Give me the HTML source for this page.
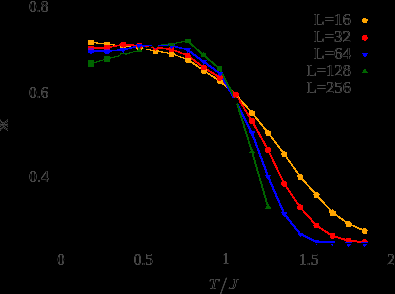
<!DOCTYPE html>
<html><head><meta charset="utf-8"><title>plot</title>
<style>
html,body{margin:0;padding:0;background:#000;}
body{width:395px;height:294px;overflow:hidden;font-family:"Liberation Serif",serif;}
svg{display:block;will-change:transform;transform:translateZ(0);font-family:"Liberation Serif",serif;}
</style></head><body>
<svg width="395" height="294" viewBox="0 0 395 294">
<defs><filter id="edge" color-interpolation-filters="sRGB" x="0" y="0" width="395" height="294" filterUnits="userSpaceOnUse"><feFlood flood-color="#000" result="bk"/><feComposite in="SourceGraphic" in2="bk" operator="over" result="o"/><feGaussianBlur in="o" stdDeviation="0.4" result="b"/><feColorMatrix in="b" type="matrix" values="0 0 0 0 1  0 0 0 0 1  0 0 0 0 1  1 0 0 0 0" result="a"/><feComposite in="a" in2="a" operator="arithmetic" k1="-1.15" k2="1.15" k3="0" k4="0"/></filter></defs>
<rect width="395" height="294" fill="#000"/>
<g shape-rendering="crispEdges">
<polyline points="91.0,42.3 107.1,44.2 123.2,46.0 139.3,48.2 155.4,50.8 171.5,53.7 187.6,59.5" fill="none" stroke="#ffa500" stroke-width="1.2" stroke-linejoin="round" stroke-linecap="round"/>
<polyline points="187.6,59.5 203.7,70.5 219.8,81.0 235.9,94.8 252.0,112.8 268.1,132.8 284.2,154.0 300.3,176.7 316.4,195.0 332.5,212.5 348.6,223.8 364.7,230.8" fill="none" stroke="#ffa500" stroke-width="1.8" stroke-linejoin="round" stroke-linecap="round"/>
<polyline points="91.0,48.3 107.1,47.6 123.2,44.6 139.3,45.7 155.4,47.6 171.5,49.2 187.6,55.4" fill="none" stroke="#ff0000" stroke-width="1.6" stroke-linejoin="round" stroke-linecap="round"/>
<polyline points="187.6,55.4 203.7,67.4 219.8,77.7 235.9,94.8 252.0,121.0 268.1,150.0 284.2,183.8 300.3,207.4 316.4,225.5 332.5,235.9 348.6,240.8 364.7,242.2" fill="none" stroke="#ff0000" stroke-width="2.0" stroke-linejoin="round" stroke-linecap="round"/>
<polyline points="91.0,50.6 107.1,51.1 123.2,49.8 139.3,45.9 155.4,45.4 171.5,45.7 187.6,49.7" fill="none" stroke="#0000ff" stroke-width="1.6" stroke-linejoin="round" stroke-linecap="round"/>
<polyline points="187.6,49.7 203.7,61.8 219.8,73.2 235.9,101.5 252.0,133.1 268.1,176.6 284.2,213.8 300.3,234.2 316.4,241.7 332.5,242.6" fill="none" stroke="#0000ff" stroke-width="2.2" stroke-linejoin="round" stroke-linecap="round"/>
<polyline points="91.0,63.5 107.1,58.8 123.2,54.8 139.3,50.4 155.4,44.9 171.5,43.9 187.6,40.9" fill="none" stroke="#006400" stroke-width="1.2" stroke-linejoin="round" stroke-linecap="round"/>
<polyline points="187.6,40.9 203.7,55.4 219.8,68.8 235.9,100.0 252.0,151.7 268.1,207.0" fill="none" stroke="#006400" stroke-width="1.9" stroke-linejoin="round" stroke-linecap="round"/>
<polyline points="123.2,56.6 139.3,51.2 155.2,45 171.5,41" fill="none" stroke="#000" stroke-width="1.6"/>
<rect x="88.0" y="40.0" width="6" height="4.6" fill="#ffa500"/>
<rect x="104.1" y="41.9" width="6" height="4.6" fill="#ffa500"/>
<rect x="120.2" y="43.7" width="6" height="4.6" fill="#ffa500"/>
<polygon points="139.30,44.90 142.63,47.32 141.36,51.23 137.24,51.23 135.97,47.32" fill="#ffa500"/>
<polygon points="155.40,47.50 158.73,49.92 157.46,53.83 153.34,53.83 152.07,49.92" fill="#ffa500"/>
<polygon points="171.50,50.40 174.83,52.82 173.56,56.73 169.44,56.73 168.17,52.82" fill="#ffa500"/>
<polygon points="187.60,56.20 190.93,58.62 189.66,62.53 185.54,62.53 184.27,58.62" fill="#ffa500"/>
<polygon points="203.70,67.20 207.03,69.62 205.76,73.53 201.64,73.53 200.37,69.62" fill="#ffa500"/>
<polygon points="219.80,77.70 223.13,80.12 221.86,84.03 217.74,84.03 216.47,80.12" fill="#ffa500"/>
<polygon points="235.90,91.50 239.23,93.92 237.96,97.83 233.84,97.83 232.57,93.92" fill="#ffa500"/>
<polygon points="252.00,109.50 255.33,111.92 254.06,115.83 249.94,115.83 248.67,111.92" fill="#ffa500"/>
<polygon points="268.10,129.50 271.43,131.92 270.16,135.83 266.04,135.83 264.77,131.92" fill="#ffa500"/>
<polygon points="284.20,150.70 287.53,153.12 286.26,157.03 282.14,157.03 280.87,153.12" fill="#ffa500"/>
<polygon points="300.30,173.40 303.63,175.82 302.36,179.73 298.24,179.73 296.97,175.82" fill="#ffa500"/>
<polygon points="316.40,191.70 319.73,194.12 318.46,198.03 314.34,198.03 313.07,194.12" fill="#ffa500"/>
<polygon points="332.50,209.20 335.83,211.62 334.56,215.53 330.44,215.53 329.17,211.62" fill="#ffa500"/>
<polygon points="348.60,220.50 351.93,222.92 350.66,226.83 346.54,226.83 345.27,222.92" fill="#ffa500"/>
<polygon points="364.70,227.50 368.03,229.92 366.76,233.83 362.64,233.83 361.37,229.92" fill="#ffa500"/>
<rect x="88.0" y="45.9" width="6" height="4.3" rx="0.6" fill="#ff0000"/>
<rect x="104.1" y="45.2" width="6" height="4.3" rx="0.6" fill="#ff0000"/>
<circle cx="123.2" cy="44.6" r="3.0" fill="#ff0000"/>
<circle cx="139.3" cy="45.7" r="3.0" fill="#ff0000"/>
<circle cx="155.4" cy="47.6" r="3.0" fill="#ff0000"/>
<circle cx="171.5" cy="49.2" r="3.0" fill="#ff0000"/>
<circle cx="187.6" cy="55.4" r="3.0" fill="#ff0000"/>
<circle cx="203.7" cy="67.4" r="3.0" fill="#ff0000"/>
<circle cx="219.8" cy="77.7" r="3.0" fill="#ff0000"/>
<circle cx="235.9" cy="94.8" r="3.0" fill="#ff0000"/>
<circle cx="252.0" cy="121.0" r="3.0" fill="#ff0000"/>
<circle cx="268.1" cy="150.0" r="3.0" fill="#ff0000"/>
<circle cx="284.2" cy="183.8" r="3.0" fill="#ff0000"/>
<circle cx="300.3" cy="207.4" r="3.0" fill="#ff0000"/>
<circle cx="316.4" cy="225.5" r="3.0" fill="#ff0000"/>
<circle cx="332.5" cy="235.9" r="3.0" fill="#ff0000"/>
<circle cx="348.6" cy="240.8" r="3.0" fill="#ff0000"/>
<circle cx="364.7" cy="242.2" r="3.0" fill="#ff0000"/>
<rect x="88.0" y="48.2" width="6" height="1.6" fill="#9000a8"/>
<polygon points="88.0,49.7 94.0,49.7 94.0,52.3 91.0,54.2 88.0,52.3" fill="#0000ff"/>
<rect x="104.1" y="48.7" width="6" height="1.6" fill="#9000a8"/>
<polygon points="104.1,50.2 110.1,50.2 110.1,52.8 107.1,54.7 104.1,52.8" fill="#0000ff"/>
<polygon points="119.80,48.10 126.60,48.10 123.20,53.20" fill="#0000ff"/>
<polygon points="135.90,44.20 142.70,44.20 139.30,49.30" fill="#0000ff"/>
<polygon points="152.00,43.70 158.80,43.70 155.40,48.80" fill="#0000ff"/>
<polygon points="168.10,44.00 174.90,44.00 171.50,49.10" fill="#0000ff"/>
<polygon points="184.20,48.00 191.00,48.00 187.60,53.10" fill="#0000ff"/>
<polygon points="200.30,60.10 207.10,60.10 203.70,65.20" fill="#0000ff"/>
<polygon points="216.40,71.50 223.20,71.50 219.80,76.60" fill="#0000ff"/>
<polygon points="232.50,99.80 239.30,99.80 235.90,104.90" fill="#0000ff"/>
<polygon points="248.60,131.40 255.40,131.40 252.00,136.50" fill="#0000ff"/>
<polygon points="264.70,174.90 271.50,174.90 268.10,180.00" fill="#0000ff"/>
<polygon points="280.80,212.10 287.60,212.10 284.20,217.20" fill="#0000ff"/>
<polygon points="296.90,232.50 303.70,232.50 300.30,237.60" fill="#0000ff"/>
<polygon points="313.00,240.00 319.80,240.00 316.40,245.10" fill="#0000ff"/>
<polygon points="329.10,240.90 335.90,240.90 332.50,246.00" fill="#0000ff"/>
<polygon points="345.10,242.35 352.10,242.35 348.60,247.60" fill="#0000ff"/>
<polygon points="361.20,242.45 368.20,242.45 364.70,247.70" fill="#0000ff"/>
<rect x="88.0" y="60.2" width="6" height="6.6" fill="#006400"/>
<rect x="104.1" y="55.5" width="6" height="6.6" fill="#006400"/>
<rect x="120.2" y="52.6" width="6" height="2" fill="#006400"/>
<polygon points="136.00,52.05 142.60,52.05 139.30,47.10" fill="#006400"/>
<polygon points="152.10,46.55 158.70,46.55 155.40,41.60" fill="#006400"/>
<polygon points="168.20,45.55 174.80,45.55 171.50,40.60" fill="#006400"/>
<rect x="184.5" y="38.7" width="6.2" height="4.2" fill="#006400"/>
<rect x="201.2" y="52.8" width="5" height="4.4" fill="#006400"/>
<polygon points="200.40,57.05 207.00,57.05 203.70,52.10" fill="#006400"/>
<rect x="217.3" y="66.2" width="5" height="4.4" fill="#006400"/>
<polygon points="216.50,70.45 223.10,70.45 219.80,65.50" fill="#006400"/>
<polygon points="232.60,101.65 239.20,101.65 235.90,96.70" fill="#006400"/>
<polygon points="248.70,153.35 255.30,153.35 252.00,148.40" fill="#006400"/>
<polygon points="264.80,208.65 271.40,208.65 268.10,203.70" fill="#006400"/>
<circle cx="155.2" cy="45.0" r="2.9" fill="#000"/>
<circle cx="123.2" cy="56.6" r="2.9" fill="#000"/>
<circle cx="171.5" cy="41.0" r="2.4" fill="#000"/>
<circle cx="235.6" cy="100.8" r="3.1" fill="#000"/>
<path d="M61 6.5V243.4H391" stroke="#000" stroke-width="1" fill="none"/>
<polygon points="364.90,17.40 368.04,19.68 366.84,23.37 362.96,23.37 361.76,19.68" fill="#ffa500"/>
<rect x="360" y="16" width="10" height="2.1" fill="#000"/>
<circle cx="364.9" cy="37.9" r="2.8" fill="#ff0000"/>
<polygon points="361.50,52.90 368.30,52.90 364.90,58.00" fill="#0000ff"/>
<polygon points="361.50,73.20 368.30,73.20 364.90,68.10" fill="#006400"/>
</g>
<g filter="url(#edge)">
<text x="38.7" y="12.0" text-anchor="middle" font-size="16.3" textLength="19.4" lengthAdjust="spacingAndGlyphs" fill="#ffffff" stroke="#000" stroke-width="0.2" >0.8</text>
<text x="38.7" y="98.0" text-anchor="middle" font-size="16.3" textLength="19.4" lengthAdjust="spacingAndGlyphs" fill="#ffffff" stroke="#000" stroke-width="0.2" >0.6</text>
<text x="39.0" y="182.4" text-anchor="middle" font-size="16.3" textLength="20.0" lengthAdjust="spacingAndGlyphs" fill="#ffffff" stroke="#000" stroke-width="0.2" >0.4</text>
<text x="61.0" y="264.6" text-anchor="middle" font-size="16.3" textLength="7.4" lengthAdjust="spacingAndGlyphs" fill="#ffffff" stroke="#000" stroke-width="0.2" >0</text>
<text x="143.4" y="264.6" text-anchor="middle" font-size="16.3" textLength="19.2" lengthAdjust="spacingAndGlyphs" fill="#ffffff" stroke="#000" stroke-width="0.2" >0.5</text>
<text x="225.9" y="264.3" text-anchor="middle" font-size="16.3" textLength="6.3" lengthAdjust="spacingAndGlyphs" fill="#ffffff" stroke="#000" stroke-width="0.2" >1</text>
<text x="308.7" y="264.6" text-anchor="middle" font-size="16.3" textLength="19.5" lengthAdjust="spacingAndGlyphs" fill="#ffffff" stroke="#000" stroke-width="0.2" >1.5</text>
<text x="391.0" y="264.6" text-anchor="middle" font-size="16.3" textLength="7.4" lengthAdjust="spacingAndGlyphs" fill="#ffffff" stroke="#000" stroke-width="0.2" >2</text>
<text x="208.6" y="289.2" text-anchor="start" font-size="15.5" textLength="10.2" lengthAdjust="spacingAndGlyphs" fill="#ffffff" stroke="#000" stroke-width="0.2" font-style="italic">T</text>
<text x="228.6" y="289.2" text-anchor="start" font-size="15.5" textLength="9.4" lengthAdjust="spacingAndGlyphs" fill="#ffffff" stroke="#000" stroke-width="0.2" font-style="italic">J</text>
<path d="M226.5 277.8L220.4 294.5" stroke="#ffffff" stroke-width="0.6" fill="none"/>
<text x="351.0" y="24.6" text-anchor="end" font-size="16.3" textLength="37.0" lengthAdjust="spacingAndGlyphs" fill="#ffffff" stroke="#000" stroke-width="0.2" >L=16</text>
<text x="351.0" y="41.7" text-anchor="end" font-size="16.3" textLength="37.0" lengthAdjust="spacingAndGlyphs" fill="#ffffff" stroke="#000" stroke-width="0.2" >L=32</text>
<text x="351.0" y="58.8" text-anchor="end" font-size="16.3" textLength="37.0" lengthAdjust="spacingAndGlyphs" fill="#ffffff" stroke="#000" stroke-width="0.2" >L=64</text>
<text x="351.0" y="75.9" text-anchor="end" font-size="16.3" textLength="44.5" lengthAdjust="spacingAndGlyphs" fill="#ffffff" stroke="#000" stroke-width="0.2" >L=128</text>
<text x="351.0" y="93.0" text-anchor="end" font-size="16.3" textLength="44.5" lengthAdjust="spacingAndGlyphs" fill="#ffffff" stroke="#000" stroke-width="0.2" >L=256</text>
<text transform="translate(8.4,125.2) rotate(-90)" text-anchor="middle" font-size="13.5" textLength="11.6" lengthAdjust="spacingAndGlyphs" fill="#ffffff">Ж</text>
</g>
</svg>
</body></html>
